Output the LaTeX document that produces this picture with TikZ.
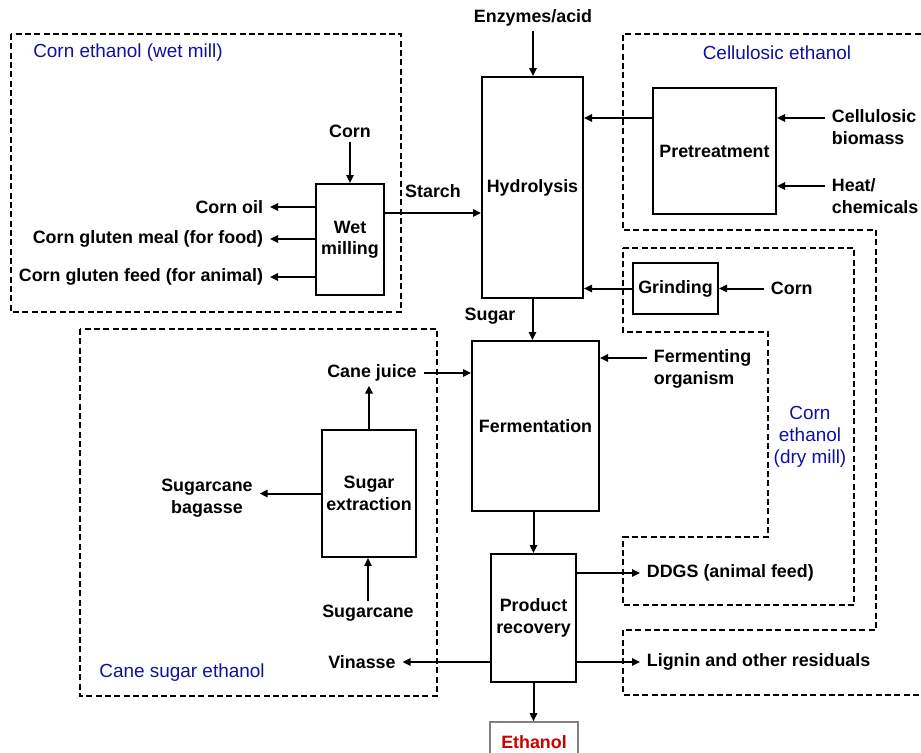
\documentclass[tikz,border=0pt]{standalone}
\usepackage{fontspec}
\setmainfont{Liberation Sans}
\usepackage{tikz}
\usetikzlibrary{arrows.meta}
\definecolor{areablue}{RGB}{16,16,160}
\definecolor{ethred}{RGB}{204,0,0}
\tikzstyle{process} = [rectangle, draw=black, line width=1.5pt, inner sep=0pt, text centered, align=center, font=\fontsize{13.4}{16}\selectfont\bfseries]
\tikzstyle{stream} = [inner xsep=5pt, inner ysep=3pt, align=center, font=\fontsize{13.4}{16}\selectfont\bfseries]
\tikzstyle{area} = [draw=black, line width=1.3pt, dash pattern=on 4.5pt off 2.5pt]
\tikzstyle{areatitle} = [inner sep=0pt, align=center, text=areablue, font=\fontsize{14.2}{16.5}\selectfont]
\tikzstyle{arrow} = [line width=1.5pt, -{Triangle[length=6pt,width=5.5pt]}]

\begin{document}
\begin{tikzpicture}[x=0.75pt, y=-0.75pt]
\useasboundingbox (0,0) rectangle (921,753);
\clip (0,0) rectangle (921,753);

\draw [area] (11,34) rectangle (401,312);
\draw [area] (80,329) rectangle (437,696);
\draw [area] (930,34) -- (623,34) -- (623,230) -- (876,230) -- (876,630) -- (623,630) -- (623,695) -- (930,695);
\draw [area] (623,248) -- (854,248) -- (854,605) -- (623,605) -- (623,537) -- (768,537) -- (768,332) -- (623,332) -- cycle;

\node (wettitle) [areatitle, anchor=west] at (33,53) {Corn ethanol (wet mill)};
\node (celltitle) [areatitle] at (777,53) {Cellulosic ethanol};
\node (drytitle) [areatitle] at (810,437) {Corn\\ethanol\\(dry mill)};
\node (canetitle) [areatitle] at (182,673) {Cane sugar ethanol};

\node (wet) [process, minimum width=51pt, minimum height=83.25pt] at (350,239.5) {Wet\\milling};
\node (hyd) [process, minimum width=75.75pt, minimum height=165.75pt] at (532.5,187.5) {Hydrolysis};
\node (ferm) [process, minimum width=95.25pt, minimum height=127.5pt] at (535.5,426) {Fermentation};
\node (prod) [process, minimum width=63.75pt, minimum height=96pt] at (533.5,618) {Product\\recovery};
\node (sugext) [process, minimum width=70.5pt, minimum height=95.25pt] at (369,493.5) {Sugar\\extraction};
\node (pre) [process, minimum width=92.25pt, minimum height=94.5pt] at (714.5,151) {Pretreatment};
\node (grind) [process, minimum width=63.75pt, minimum height=38.25pt] at (675.5,288.5) {Grinding};
\node (eth) [process, draw=gray, line width=1.2pt, text=ethred, minimum width=66pt, minimum height=30pt] at (534,742) {Ethanol};

\node (cornwet) [stream] at (350,131) {Corn};
\node (oil) [stream, anchor=east] at (270,207) {Corn oil};
\node (meal) [stream, anchor=east] at (270,239) {Corn gluten meal (for food)};
\node (feed) [stream, anchor=east] at (270,277) {Corn gluten feed (for animal)};
\node (starch) [stream] at (433,191) {Starch};
\node (enz) [stream] at (533,18) {Enzymes/acid};
\node (sugar) [stream] at (490,316) {Sugar};
\node (juice) [stream] at (372,373) {Cane juice};
\node (bagasse) [stream] at (207,498) {Sugarcane\\bagasse};
\node (cane) [stream] at (368,613) {Sugarcane};
\node (vinasse) [stream] at (362,662) {Vinasse};
\node (organism) [stream, anchor=west, align=left] at (647,369) {Fermenting\\organism};
\node (ddgs) [stream, anchor=west] at (640,573) {DDGS (animal feed)};
\node (lignin) [stream, anchor=west] at (640,662) {Lignin and other residuals};
\node (biomass) [stream, anchor=west, align=left] at (825,127) {Cellulosic\\biomass};
\node (heat) [stream, anchor=west, align=left] at (825,196) {Heat/\\chemicals};
\node (corndry) [stream, anchor=west] at (764,288.5) {Corn};

\coordinate (starchout) at ([yshift=19.875pt]wet.east);
\coordinate (preout) at ([yshift=24.75pt]pre.west);
\coordinate (orgin) at ([yshift=8.25pt]organism.west);
\coordinate (bioin) at ([yshift=6.75pt]biomass.west);
\coordinate (heatin) at ([yshift=7.5pt]heat.west);

\draw [arrow] (cornwet) -- (wet);
\draw [arrow] (wet.west |- oil) -- (oil);
\draw [arrow] (wet.west |- meal) -- (meal);
\draw [arrow] (wet.west |- feed) -- (feed);
\draw [arrow] (starchout) -- (starchout -| hyd.west);
\draw [arrow] (enz) -- (enz |- hyd.north);
\draw [arrow] (hyd) -- (hyd |- ferm.north);
\draw [arrow] (sugext) -- (sugext |- juice.south);
\draw [arrow] (juice) -- (juice -| ferm.west);
\draw [arrow] (sugext.west) -- (sugext.west -| bagasse.east);
\draw [arrow] (cane) -- (cane |- sugext.south);
\draw [arrow] (orgin) -- (orgin -| ferm.east);
\draw [arrow] (prod |- ferm.south) -- (prod);
\draw [arrow] (prod.west |- vinasse) -- (vinasse);
\draw [arrow] (prod.east |- ddgs) -- (ddgs);
\draw [arrow] (prod.east |- lignin) -- (lignin);
\draw [arrow] (prod) -- (prod |- eth.north);
\draw [arrow] (preout) -- (preout -| hyd.east);
\draw [arrow] (bioin) -- (bioin -| pre.east);
\draw [arrow] (heatin) -- (heatin -| pre.east);
\draw [arrow] (grind) -- (grind -| hyd.east);
\draw [arrow] (corndry) -- (grind);
\end{tikzpicture}
\end{document}
